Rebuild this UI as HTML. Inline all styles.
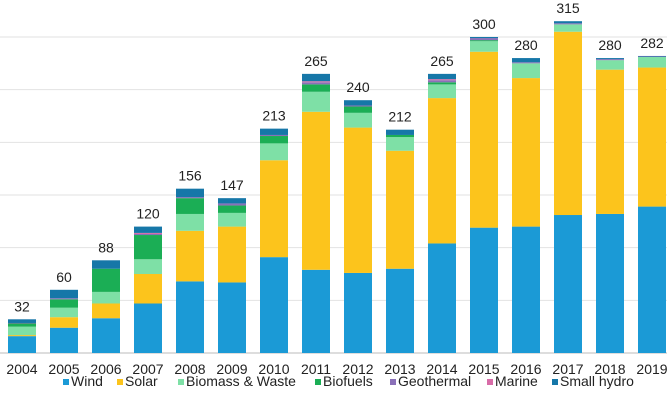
<!DOCTYPE html>
<html><head><meta charset="utf-8"><style>
html,body{margin:0;padding:0;background:#fff;width:667px;height:401px;overflow:hidden}
svg{display:block;font-family:"Liberation Sans",sans-serif}
</style></head><body>
<svg id="chart" width="667" height="401" viewBox="0 0 667 401">
<g id="grid"></g>
<g id="bars"></g>
<g id="xlabels"></g>
<g id="legend"></g>
</svg>
<script>
const years=["2004","2005","2006","2007","2008","2009","2010","2011","2012","2013","2014","2015","2016","2017","2018","2019"];
const wind=[16,24,33,47,68,67,91,79,76,80,104,119,120,131,132,139];
const solar=[1,10,14,28,48,53,92,150,138,112,138,167,141,174,137,132];
const biomass=[8,9,11,14,16,13,16,19,14,13,13,10,14,7,9,10];
const biofuels=[3,8,22,23,15,7,7,7,6,2,2,1,0,0,0,0];
const geothermal=[0.5,1,0,1,1,2,1,2,1,0,2,2,1,1,1,0.5];
const marine=[0,0,0,1,0,0,0,1,0,0,1,0,0,0,0,0];
const smallHydro=[3.5,8,8,6,8,5,6,7,5,5,5,1,4,2,1,0.5];
const totals=[32,60,88,120,156,147,213,265,240,212,265,300,280,315,280,282];
const gridTicks=[0,50,100,150,200,250,300];
const seriesNames=["Wind","Solar","Biomass & Waste","Biofuels","Geothermal","Marine","Small hydro"];
const series=[wind,solar,biomass,biofuels,geothermal,marine,smallHydro];
const colors=["#1b9ad6","#fcc41c","#7ee0a6","#1bae55","#8a70b8","#d86ca8","#1677a8"];
const NS="http://www.w3.org/2000/svg";
const base=353, k=316/300, x0=22, step=42, bw=28;
const y=v=>base-v*k;
const xc=i=>x0+i*step;
function mk(t,a,p){const e=document.createElementNS(NS,t);for(const q in a)e.setAttribute(q,a[q]);p.appendChild(e);return e;}
const grid=document.getElementById('grid');
gridTicks.forEach((t,i)=>{
  const l=mk('line',{x1:0,x2:667,y1:y(t),y2:y(t),stroke:i===0?'#bbb':'#e2e2e2','stroke-width':1},grid);
  
  
});
const bars=document.getElementById('bars');
years.forEach((yr,i)=>{
  let acc=0;
  series.forEach((s,j)=>{
    const v=s[i]; if(v<=0)return;
    const r=mk('rect',{x:xc(i)-bw/2,y:y(acc+v),width:bw,height:v*k,fill:colors[j]},bars);
    
    
    acc+=v;
  });
  const t=mk('text',{x:xc(i),y:y(acc)-8,'text-anchor':'middle','font-size':14,fill:'#222'},bars);
  t.textContent=totals[i];
  
  
  const xl=mk('text',{x:xc(i),y:374,'text-anchor':'middle','font-size':14,fill:'#222'},document.getElementById('xlabels'));
  xl.textContent=yr;
  
  
});
const legX=[63,117,178,315,390,487,552];
const lg=document.getElementById('legend');
seriesNames.forEach((n,j)=>{
  const g=mk('g',{},lg);
  
  
  mk('rect',{x:legX[j],y:379,width:6,height:6,fill:colors[j]},g);
  const t=mk('text',{x:legX[j]+8,y:386,'font-size':14,fill:'#222'},g);
  t.textContent=n;
});
</script>
</body></html>
